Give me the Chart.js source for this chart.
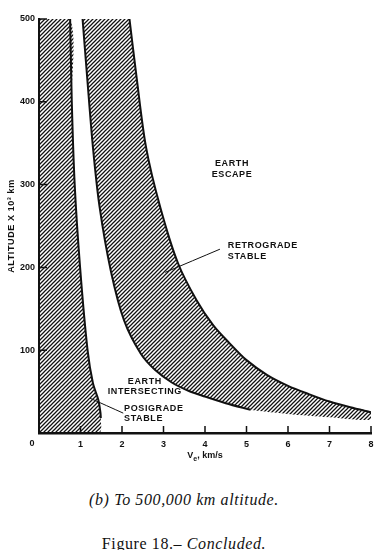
<!DOCTYPE html>
<html>
<head>
<meta charset="utf-8">
<script src="https://cdn.jsdelivr.net/npm/chart.js@4.4.1/dist/chart.umd.min.js"></script>
<style>
  html, body { margin: 0; padding: 0; background: #fff; }
  #wrap { position: relative; width: 383px; height: 550px; overflow: hidden; }
  #chart { position: absolute; left: 0; top: 0; }
  .cap { position: absolute; left: 0; width: 368px; text-align: center;
         font-family: 'Liberation Serif', 'DejaVu Serif', serif; font-size: 16px;
         letter-spacing: 0.6px; color: #111; white-space: nowrap; line-height: 18px; }
</style>
</head>
<body>
<div id="wrap">
  <canvas id="chart" width="383" height="470"></canvas>
  <div class="cap" style="top:491px;"><i>(b) To 500,000 km altitude.</i></div>
  <div class="cap" style="top:535px;">Figure 18.– <i>Concluded.</i></div>
</div>
<script>
/* ── Axis ticks ── */
var xTicks = [0, 1, 2, 3, 4, 5, 6, 7, 8];
var yTicks = [0, 100, 200, 300, 400, 500];

/* ── Posigrade stable boundary (V_e km/s, altitude x 10^3 km) ── */
var posiV   = [0.75, 0.79, 0.86, 0.99, 1.17, 1.30, 1.43, 1.48, 1.49];
var posiAlt = [500, 400, 300, 200, 100, 60, 40, 25, 18];
// hatching runs on to the axis below the end of the curve
var posiTailV   = [1.45];
var posiTailAlt = [0];

/* ── Retrograde stable band ── */
var innerV   = [1.05, 1.16, 1.30, 1.46, 1.73, 2.05, 2.45, 2.80, 3.20, 3.60, 4.00, 4.50, 5.10];
var innerAlt = [500, 430, 345, 273, 196, 136, 96, 76, 61, 51, 44, 36, 28];
var outerV   = [2.18, 2.35, 2.58, 2.92, 3.35, 3.80, 4.20, 4.60, 5.00, 5.50, 6.00, 6.50, 7.00, 7.50, 8.00];
var outerAlt = [500, 430, 345, 273, 205, 160, 130, 108, 88, 70, 57, 47, 38, 31, 25];
// unbordered lower edge of the hatching past the end of the inner curve
var tailV   = [6.0, 7.0, 8.0];
var tailAlt = [23, 19, 16];

/* ── Leader lines ── */
var retroLeaderV   = [4.36, 3.04];
var retroLeaderAlt = [222, 194];
var posiLeaderV    = [2.03, 1.23];
var posiLeaderAlt  = [24, 42];

var INK = '#111';
var FONT = "'Liberation Sans', Arial, sans-serif";

function pts(xs, ys) {
  return xs.map(function (x, i) { return { x: x, y: ys[i] }; });
}

function makeHatch() {
  var c = document.createElement('canvas');
  c.width = 4; c.height = 4;
  var g = c.getContext('2d');
  g.strokeStyle = INK;
  g.lineWidth = 1.25;
  g.beginPath();
  g.moveTo(-1, 5); g.lineTo(5, -1);
  g.moveTo(-1, 1); g.lineTo(1, -1);
  g.moveTo(3, 5); g.lineTo(5, 3);
  g.stroke();
  return g.createPattern(c, 'repeat');
}
var hatch = makeHatch();

var xMin = xTicks[0], xMax = xTicks[xTicks.length - 1];
var yMin = yTicks[0], yMax = yTicks[yTicks.length - 1];

var posiPoly = [{ x: xMin, y: yMax }]
  .concat(pts(posiV, posiAlt), pts(posiTailV, posiTailAlt), [{ x: xMin, y: yMin }]);
var bandPoly = pts(innerV, innerAlt)
  .concat(pts(tailV, tailAlt), pts(outerV, outerAlt).reverse());

function area(data) {
  return { data: data, showLine: true, fill: 'shape', backgroundColor: hatch,
           borderWidth: 0, pointRadius: 0, tension: 0.3, order: 5, clip: 0 };
}
function curve(data, w) {
  return { data: data, showLine: true, fill: false, borderColor: INK,
           borderWidth: w, pointRadius: 0, tension: 0.3, order: 1 };
}

/* ── Labels inside the plot ── */
var notes = [
  { lines: ['EARTH', 'ESCAPE'], v: 4.65, alt: 326, align: 'center', gap: 11 },
  { lines: ['RETROGRADE', 'STABLE'], v: 4.55, alt: 226, align: 'left', gap: 11 },
  { lines: ['EARTH', 'INTERSECTING'], v: 2.55, alt: 62, align: 'center', gap: 10 },
  { lines: ['POSIGRADE', 'STABLE'], v: 2.05, alt: 29.5, align: 'left', gap: 10 }
];

var decor = {
  id: 'decor',
  afterDatasetsDraw: function (chart) {
    var ctx = chart.ctx, xs = chart.scales.x, ys = chart.scales.y;
    var a = chart.chartArea;
    ctx.save();
    ctx.strokeStyle = INK;
    ctx.lineWidth = 1.5;
    ctx.beginPath();
    xTicks.forEach(function (v) {
      if (v === xMin) return;
      var px = xs.getPixelForValue(v);
      ctx.moveTo(px, a.bottom); ctx.lineTo(px, a.bottom - 7);
    });
    yTicks.forEach(function (v) {
      if (v === yMin) return;
      var py = ys.getPixelForValue(v);
      ctx.moveTo(a.left, py); ctx.lineTo(a.left + 8, py);
    });
    ctx.stroke();

    ctx.fillStyle = INK;
    ctx.font = 'bold 9px ' + FONT;
    ctx.letterSpacing = '0.6px';
    ctx.textBaseline = 'middle';
    notes.forEach(function (n) {
      ctx.textAlign = n.align;
      var x = xs.getPixelForValue(n.v), y = ys.getPixelForValue(n.alt);
      n.lines.forEach(function (t, i) { ctx.fillText(t, x, y + i * n.gap); });
    });

    // origin label, set off below-left of the corner
    ctx.letterSpacing = '0px';
    ctx.textAlign = 'center';
    ctx.fillText('0', xs.getPixelForValue(xMin) - 7, a.bottom + 10.5);

    // x-axis title with subscript
    var cx = (a.left + a.right) / 2, ty = a.bottom + 23;
    var p1 = 'V', p2 = 'e', p3 = ', km/s';
    ctx.font = 'bold 9px ' + FONT;
    var w1 = ctx.measureText(p1).width, w3 = ctx.measureText(p3).width;
    ctx.font = 'bold 7px ' + FONT;
    var w2 = ctx.measureText(p2).width;
    var x0 = cx - (w1 + w2 + w3) / 2;
    ctx.textAlign = 'left';
    ctx.font = 'bold 9px ' + FONT;
    ctx.fillText(p1, x0, ty);
    ctx.font = 'bold 7px ' + FONT;
    ctx.fillText(p2, x0 + w1, ty + 3);
    ctx.font = 'bold 9px ' + FONT;
    ctx.fillText(p3, x0 + w1 + w2, ty);

    // y-axis title
    ctx.translate(12, (a.top + a.bottom) / 2);
    ctx.rotate(-Math.PI / 2);
    ctx.textAlign = 'center';
    ctx.letterSpacing = '0.6px';
    ctx.fillText('ALTITUDE X 10³ km', 0, 0);
    ctx.restore();
  }
};

new Chart(document.getElementById('chart'), {
  type: 'scatter',
  data: {
    datasets: [
      area(posiPoly),
      area(bandPoly),
      curve(pts(posiV, posiAlt), 2),
      curve(pts(innerV, innerAlt), 2),
      curve(pts(outerV, outerAlt), 2),
      curve(pts(retroLeaderV, retroLeaderAlt), 1),
      curve(pts(posiLeaderV, posiLeaderAlt), 1)
    ]
  },
  options: {
    responsive: false,
    animation: false,
    layout: { padding: { top: 19, right: 12, left: 0, bottom: 0 } },
    plugins: { legend: { display: false }, tooltip: { enabled: false } },
    scales: {
      x: {
        type: 'linear', min: xMin, max: xMax,
        afterFit: function (s) { s.height = 37; },
        afterBuildTicks: function (s) { s.ticks = xTicks.map(function (v) { return { value: v }; }); },
        grid: { display: false, drawTicks: false },
        border: { display: true, color: INK, width: 2.5 },
        ticks: {
          padding: 6, color: INK, font: { family: FONT, size: 9, weight: 'bold' },
          callback: function (v) { return v === xMin ? '' : String(v); }
        }
      },
      y: {
        type: 'linear', min: yMin, max: yMax,
        afterFit: function (s) { s.width = 39; },
        afterBuildTicks: function (s) { s.ticks = yTicks.map(function (v) { return { value: v }; }); },
        grid: { display: false, drawTicks: false },
        border: { display: true, color: INK, width: 2 },
        ticks: {
          padding: 4, color: INK, font: { family: FONT, size: 9, weight: 'bold' },
          callback: function (v) { return v === yMin ? '' : String(v); }
        }
      }
    }
  },
  plugins: [decor]
});
</script>
</body>
</html>
